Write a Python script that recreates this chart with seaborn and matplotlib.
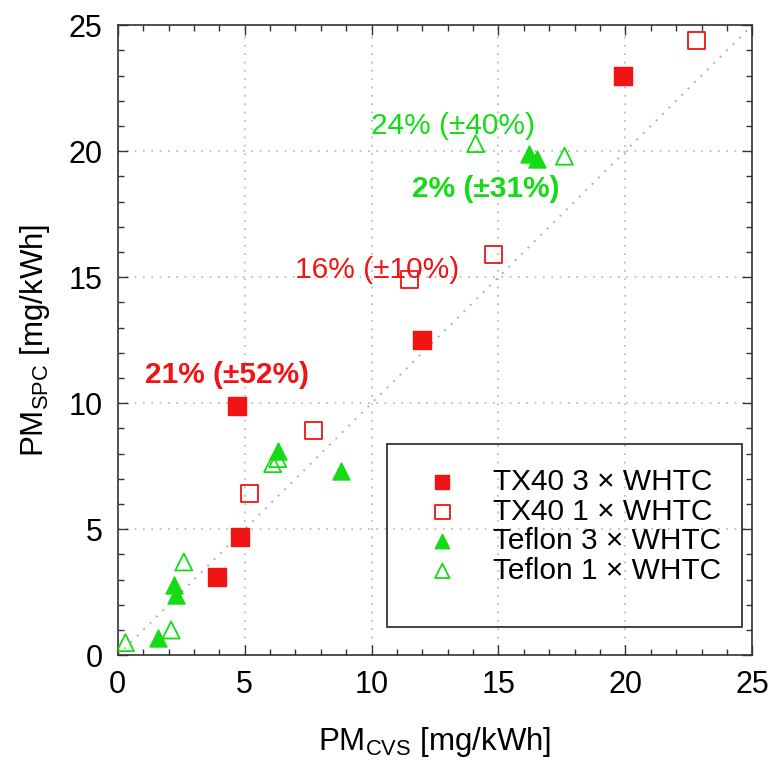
import matplotlib
matplotlib.use("Agg")
import matplotlib.pyplot as plt
from matplotlib.ticker import MultipleLocator
from matplotlib.patches import Rectangle
import seaborn as sns

# ---- data ----
tx40_3_x = [4.7, 12.0, 19.9, 4.8, 3.9]
tx40_3_y = [9.9, 12.5, 23.0, 4.7, 3.1]
tx40_1_x = [22.8, 14.8, 11.5, 7.7, 5.2]
tx40_1_y = [24.4, 15.9, 14.9, 8.9, 6.4]
tef_3_x = [16.2, 16.5, 6.3, 8.8, 2.2, 2.3, 1.6]
tef_3_y = [19.9, 19.7, 8.1, 7.3, 2.8, 2.4, 0.7]
tef_1_x = [14.1, 17.6, 6.1, 6.3, 2.6, 2.1, 0.3]
tef_1_y = [20.3, 19.8, 7.6, 7.8, 3.7, 1.0, 0.5]
series_labels = ["TX40 3 × WHTC", "TX40 1 × WHTC", "Teflon 3 × WHTC", "Teflon 1 × WHTC"]
annot_texts = ["21% (±52%)", "16% (±10%)", "24% (±40%)", "2% (±31%)"]
annot_x = [4.3, 10.2, 13.2, 14.5]
annot_y = [11.1, 15.3, 21.0, 18.5]
diag = [0, 25]

RED = "#f01414"
GREEN = "#14dc14"

sns.set_theme(style="white")
plt.rcParams["font.family"] = ["Liberation Sans", "DejaVu Sans"]
plt.rcParams["mathtext.default"] = "regular"
plt.rcParams["text.color"] = "black"
plt.rcParams["axes.labelcolor"] = "black"
plt.rcParams["xtick.color"] = "#333333"
plt.rcParams["ytick.color"] = "#333333"
plt.rcParams["xtick.labelcolor"] = "black"
plt.rcParams["ytick.labelcolor"] = "black"

fig = plt.figure(figsize=(7.7, 7.61), dpi=100)
ax = fig.add_axes([0.153, 0.139, 0.824, 0.828])

# diagonal
sns.lineplot(x=diag, y=diag, ax=ax, color="#a8a8a8", linestyle=(0, (1, 4)), linewidth=1.3, zorder=1)

ms = 150
sns.scatterplot(x=tx40_3_x, y=tx40_3_y, ax=ax, marker="s", s=ms, color=RED, edgecolor=RED,
                linewidth=1.0, label=series_labels[0], zorder=3)
sns.scatterplot(x=tx40_1_x, y=tx40_1_y, ax=ax, marker="s", s=ms, facecolors="none", edgecolors=RED,
                linewidth=1.3, label=series_labels[1], zorder=3)
sns.scatterplot(x=tef_3_x, y=tef_3_y, ax=ax, marker="^", s=ms, color=GREEN, edgecolor=GREEN,
                linewidth=1.0, label=series_labels[2], zorder=3)
sns.scatterplot(x=tef_1_x, y=tef_1_y, ax=ax, marker="^", s=ms, facecolors="none", edgecolors=GREEN,
                linewidth=1.3, label=series_labels[3], zorder=3)

# annotations
styles = [(RED, "bold"), (RED, "normal"), (GREEN, "normal"), (GREEN, "bold")]
for t, x, y, (c, w) in zip(annot_texts, annot_x, annot_y, styles):
    ax.text(x, y, t, color=c, fontweight=w, fontsize=21.5, ha="center", va="center")

ax.set_xlim(0, 25)
ax.set_ylim(0, 25)
ax.xaxis.set_major_locator(MultipleLocator(5))
ax.yaxis.set_major_locator(MultipleLocator(5))
ax.xaxis.set_minor_locator(MultipleLocator(1))
ax.yaxis.set_minor_locator(MultipleLocator(1))
ax.tick_params(which="both", direction="in", top=True, right=True, bottom=True, left=True)
ax.tick_params(which="major", length=7, width=1, labelsize=22, pad=11)
ax.tick_params(which="minor", length=4, width=1)
ax.grid(True, which="major", color="#b4b4b4", linestyle=(0, (1, 4)), linewidth=1.2)
for sp in ax.spines.values():
    sp.set_color("#333333")
    sp.set_linewidth(1.2)

ax.set_xlabel("PM$_{CVS}$ [mg/kWh]", fontsize=22.5, labelpad=18)
ax.set_ylabel("PM$_{SPC}$ [mg/kWh]", fontsize=22.5, labelpad=12)

# legend box drawn separately (extra space at the bottom)
ax.add_patch(Rectangle((0.424, 0.044), 0.56, 0.291, transform=ax.transAxes, fill=False,
                       edgecolor="#222222", linewidth=1.2, zorder=4))
leg = ax.legend(loc="upper left", bbox_to_anchor=(0.455, 0.33), frameon=False, fontsize=21.5,
                handlelength=1.0, handletextpad=1.2, labelspacing=0.05, borderpad=0.2,
                markerscale=0.85)

fig.savefig("out.png", dpi=100, facecolor="white")
